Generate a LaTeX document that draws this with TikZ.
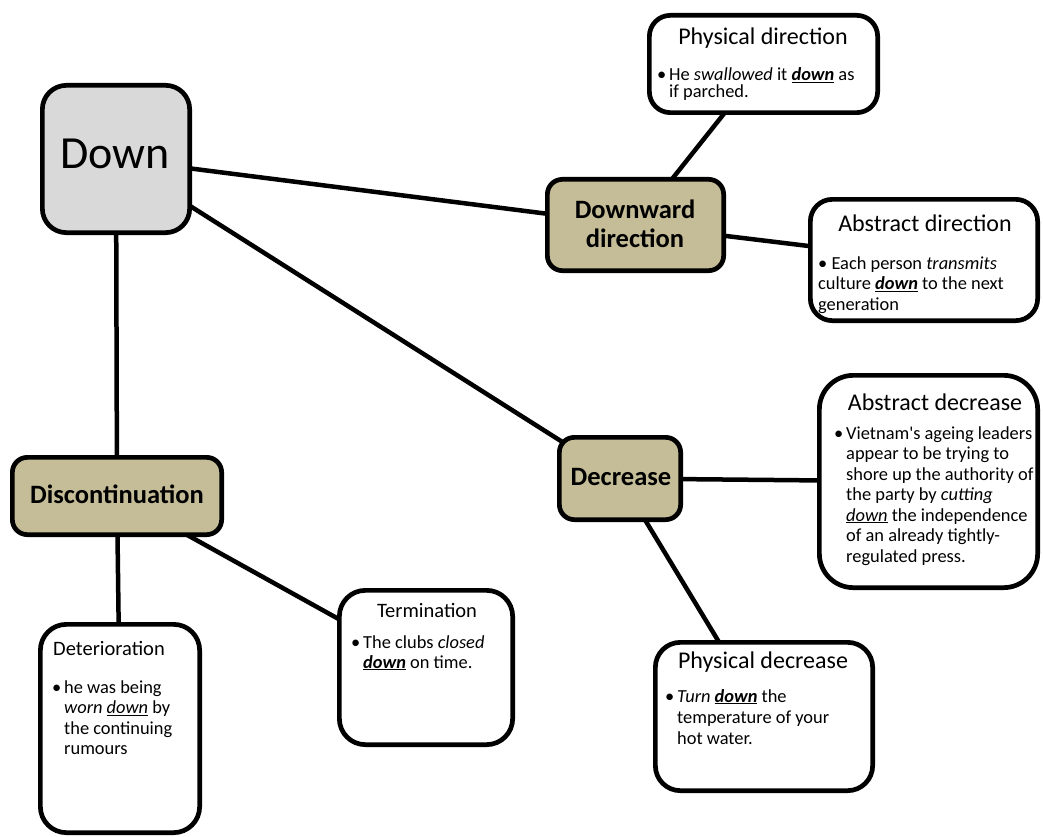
\documentclass[tikz,border=0pt]{standalone}
\usepackage{fontspec}
\setmainfont{Carlito}
\usetikzlibrary{backgrounds}

\definecolor{rootgrey}{HTML}{D9D9D9}
\definecolor{tanfill}{HTML}{C4BD97}

% emphasised keyword: bold italic, underlined
\newcommand\kw[1]{\underline{\textbf{\textit{#1}}}}
% bullet hanging in the left margin of the first line
\newcommand\bul{\llap{\textbullet\hspace{3pt}}}
% body paragraph, first baseline at the node's base
\newcommand\bodytext[2][20.5]{\parbox[t]{300pt}{\fontsize{18.4}{#1}\selectfont\raggedright\noindent #2\par}}

\tikzset{
  box/.style={draw, line width=4.7pt, inner sep=0pt, rounded corners=#1},
  box/.default=22pt,
  rootbox/.style={box=24pt, fill=rootgrey},
  midbox/.style={box=15pt, fill=tanfill},
  leafbox/.style={box=#1, fill=white},
  leafbox/.default=24pt,
  link/.style={line width=4.5pt},
  rootlabel/.style={anchor=base, inner sep=0pt, font=\fontsize{46}{50}\selectfont},
  midlabel/.style={anchor=base, inner sep=0pt, align=center, font=\fontsize{26.5}{29}\selectfont\bfseries},
  title/.style={anchor=base, inner sep=0pt, font=\fontsize{24}{28}\selectfont},
  smalltitle/.style={anchor=base, inner sep=0pt, font=\fontsize{20.5}{24}\selectfont},
  body/.style={anchor=base west, inner sep=0pt},
}

\begin{document}
\begin{tikzpicture}[x=1pt, y=-1pt]
\useasboundingbox (0,0) rectangle (1043,837);

% boxes
\node[rootbox, minimum width=147.3pt, minimum height=147.3pt] (down) at (116,159) {};
\node[midbox, minimum width=176.3pt, minimum height=91.3pt] (dd) at (635.5,225) {};
\node[midbox, minimum width=121.3pt, minimum height=82.3pt] (dec) at (620,478.5) {};
\node[midbox, minimum width=209.3pt, minimum height=77.3pt] (disc) at (117,496) {};
\node[leafbox=21pt, minimum width=228.3pt, minimum height=97.3pt] (pd) at (763.5,64) {};
\node[leafbox=22pt, minimum width=227.3pt, minimum height=121.3pt] (ad) at (924,260) {};
\node[leafbox=34pt, minimum width=218.3pt, minimum height=212.3pt] (adec) at (928.5,481.5) {};
\node[leafbox=25pt, minimum width=217.3pt, minimum height=148.3pt] (pdec) at (764,716.5) {};
\node[leafbox=26pt, minimum width=173.3pt, minimum height=154.3pt] (term) at (426,667.5) {};
\node[leafbox=26pt, minimum width=159.3pt, minimum height=208.3pt] (det) at (120,728.5) {};

% connectors, behind the boxes
\begin{scope}[on background layer]
  \draw[link] (down.center) -- (dd.center);
  \draw[link] (down.center) -- (dec.center);
  \draw[link] (down.center) -- (disc.center);
  \draw[link] (dd.center) -- (pd.center);
  \draw[link] (dd.center) -- (ad.center);
  \draw[link] (dec.center) -- (adec.center);
  \draw[link] (dec.center) -- (pdec.center);
  \draw[link] (disc.center) -- (det.center);
  \draw[link] (disc.center) -- (term.center);
\end{scope}

% labels of the central boxes (base = last line)
\node[rootlabel] (downL) at (115,168) {Down};
\node[midlabel] (ddL) at (635,247) {Downward\\direction};
\node[midlabel] (decL) at (621,485) {Decrease};
\node[midlabel] (discL) at (117,503) {Discontinuation};

% Physical direction
\node[title] (pdT) at (763,45) {Physical direction};
\node[body] (pdB) at (669,81) {\bodytext[17]{\bul He \textit{swallowed} it \kw{down} as\\
if parched.}};

% Abstract direction
\node[title] (adT) at (925,231) {Abstract direction};
\node[body] (adB) at (818,269) {\bodytext[20.7]{\textbullet{} Each person \textit{transmits}\\
culture \kw{down} to the next\\
generation}};

% Abstract decrease
\node[title] (adecT) at (935,410) {Abstract decrease};
\node[body] (adecB) at (846,439) {\bodytext[20.5]{\bul Vietnam\textquotesingle s ageing leaders\\
appear to be trying to\\
shore up the authority of\\
the party by \textit{cutting}\\
\underline{\textit{down}} the independence\\
of an already tightly-\\
regulated press.}};

% Physical decrease
\node[title] (pdecT) at (763,668) {Physical decrease};
\node[body] (pdecB) at (677,702) {\bodytext[21]{\bul\textit{Turn} \kw{down} the\\
temperature of your\\
hot water.}};

% Termination
\node[smalltitle] (termT) at (427,617) {Termination};
\node[body] (termB) at (363,648) {\bodytext[20]{\bul The clubs \textit{closed}\\
\kw{down} on time.}};

% Deterioration
\node[smalltitle, anchor=base west] (detT) at (53,655) {Deterioration};
\node[body] (detB) at (64,693) {\bodytext[20.5]{\bul he was being\\
\textit{worn \underline{down}} by\\
the continuing\\
rumours}};
\end{tikzpicture}
\end{document}
